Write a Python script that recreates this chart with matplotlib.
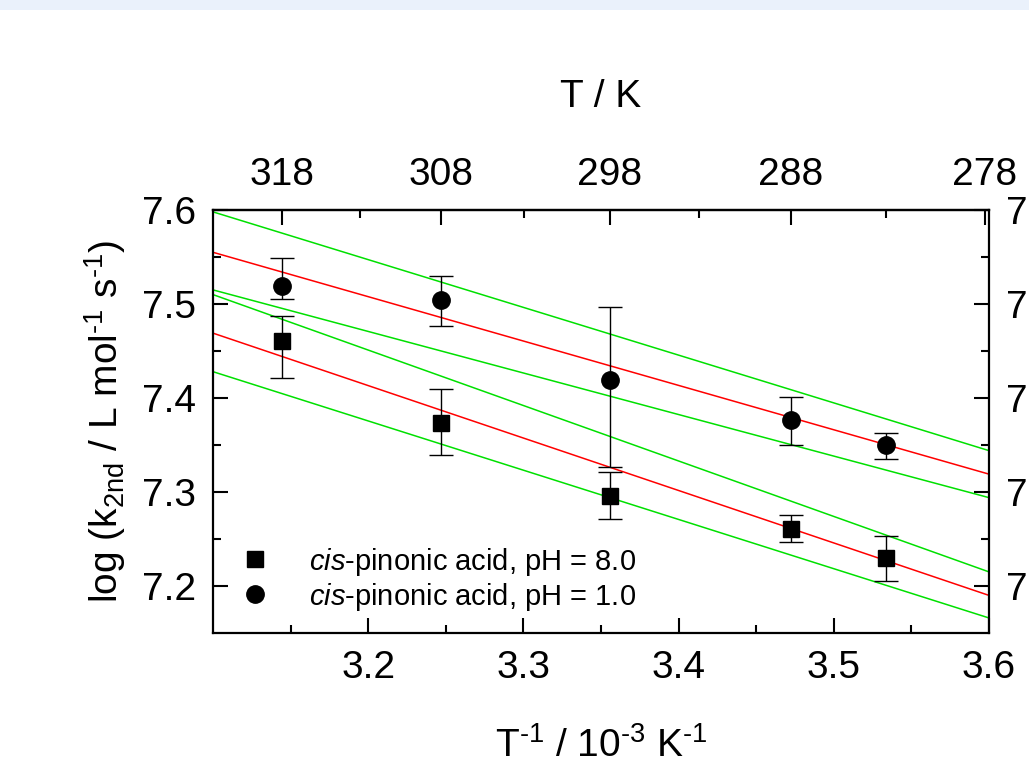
import numpy as np
import matplotlib
matplotlib.use('Agg')
import matplotlib.pyplot as plt
from matplotlib.patches import Rectangle

plt.rcParams['font.family'] = ['Liberation Sans', 'DejaVu Sans']
plt.rcParams['mathtext.fontset'] = 'custom'
plt.rcParams['mathtext.rm'] = 'Liberation Sans'
plt.rcParams['mathtext.it'] = 'Liberation Sans:italic'
plt.rcParams['mathtext.default'] = 'regular'

# data
temps = [318, 308, 298, 288, 283]
inv_T = [1000.0 / t for t in temps]

ph8_val = [7.461, 7.373, 7.296, 7.261, 7.230]
ph8_hi = [7.487, 7.410, 7.321, 7.276, 7.253]
ph8_lo = [7.421, 7.339, 7.271, 7.247, 7.205]

ph1_val = [7.519, 7.504, 7.419, 7.377, 7.350]
ph1_hi = [7.549, 7.530, 7.497, 7.401, 7.363]
ph1_lo = [7.505, 7.477, 7.327, 7.350, 7.335]

# fit lines and confidence bands, values at x = 3.1 and 3.6
line_x = [3.1, 3.6]
ph1_fit = [7.555, 7.319]
ph1_up = [7.598, 7.344]
ph1_dn = [7.515, 7.294]
ph8_fit = [7.469, 7.190]
ph8_up = [7.510, 7.215]
ph8_dn = [7.428, 7.166]

top_ticks = [318, 308, 298, 288, 278]
top_minor = [313, 303, 293, 283]

fig = plt.figure(figsize=(10.29, 7.73), dpi=100)
fig.patches.append(Rectangle((0, 1 - 10 / 773), 1, 10 / 773, transform=fig.transFigure,
                             facecolor='#EAF1FB', edgecolor='none', zorder=0))
ax = fig.add_axes([213 / 1029, 1 - 633 / 773, 776 / 1029, 423 / 773])

for y in [ph1_up, ph1_dn, ph8_up, ph8_dn]:
    ax.plot(line_x, y, color='#00E000', lw=1.1, zorder=2)
ax.plot(line_x, ph1_fit, color='#FF0000', lw=1.1, zorder=2)
ax.plot(line_x, ph8_fit, color='#FF0000', lw=1.1, zorder=2)

v8 = np.array(ph8_val)
v1 = np.array(ph1_val)
err8 = [v8 - np.array(ph8_lo), np.array(ph8_hi) - v8]
err1 = [v1 - np.array(ph1_lo), np.array(ph1_hi) - v1]
ax.errorbar(inv_T, ph8_val, yerr=err8, fmt='none', ecolor='black',
            elinewidth=1, capsize=8.5, capthick=1, zorder=3)
ax.errorbar(inv_T, ph1_val, yerr=err1, fmt='none', ecolor='black',
            elinewidth=1, capsize=8.5, capthick=1, zorder=3)
ax.plot(inv_T, ph8_val, 's', color='black', ms=11, ls='none', zorder=4,
        label=r'$\mathit{cis}$-pinonic acid, pH = 8.0')
ax.plot(inv_T, ph1_val, 'o', color='black', ms=12.5, ls='none', zorder=4,
        label=r'$\mathit{cis}$-pinonic acid, pH = 1.0')

ax.set_xlim(3.1, 3.6)
ax.set_ylim(7.15, 7.6)
ax.set_xticks([3.2, 3.3, 3.4, 3.5, 3.6])
ax.set_xticks(np.arange(3.15, 3.6, 0.1), minor=True)
ax.set_yticks([7.2, 7.3, 7.4, 7.5, 7.6])
ax.set_yticks([7.25, 7.35, 7.45, 7.55], minor=True)
ax.tick_params(which='both', direction='in', labelsize=28, width=1.5,
               top=False, right=True, labelright=True)
ax.tick_params(which='major', length=11, pad=12)
ax.tick_params(which='minor', length=6)
for s in ax.spines.values():
    s.set_linewidth(1.6)

ax.set_xlabel(r'T$^{\text{-1}}$ / 10$^{\text{-3}}$ K$^{\text{-1}}$', fontsize=28, labelpad=30)
ax.set_ylabel(r'log (k$_{2nd}$ / L mol$^{\text{-1}}$ s$^{\text{-1}}$)', fontsize=28, labelpad=10)

sec = ax.secondary_xaxis('top', functions=(lambda x: 1000 / x, lambda t: 1000 / t))
sec.set_xticks(top_ticks)
sec.set_xticks(top_minor, minor=True)
sec.set_xticklabels([str(t) for t in top_ticks])
sec.tick_params(which='both', direction='in', labelsize=28, width=1.5)
sec.tick_params(which='major', length=11, pad=12)
sec.tick_params(which='minor', length=6)
sec.spines['top'].set_linewidth(1.6)
sec.set_xlabel('T / K', fontsize=28, labelpad=36)

leg = ax.legend(loc='lower left', fontsize=21, frameon=False, handletextpad=1.1,
                borderaxespad=0.3, labelspacing=0.1, handlelength=1.5)

fig.savefig('out.png', dpi=100)
